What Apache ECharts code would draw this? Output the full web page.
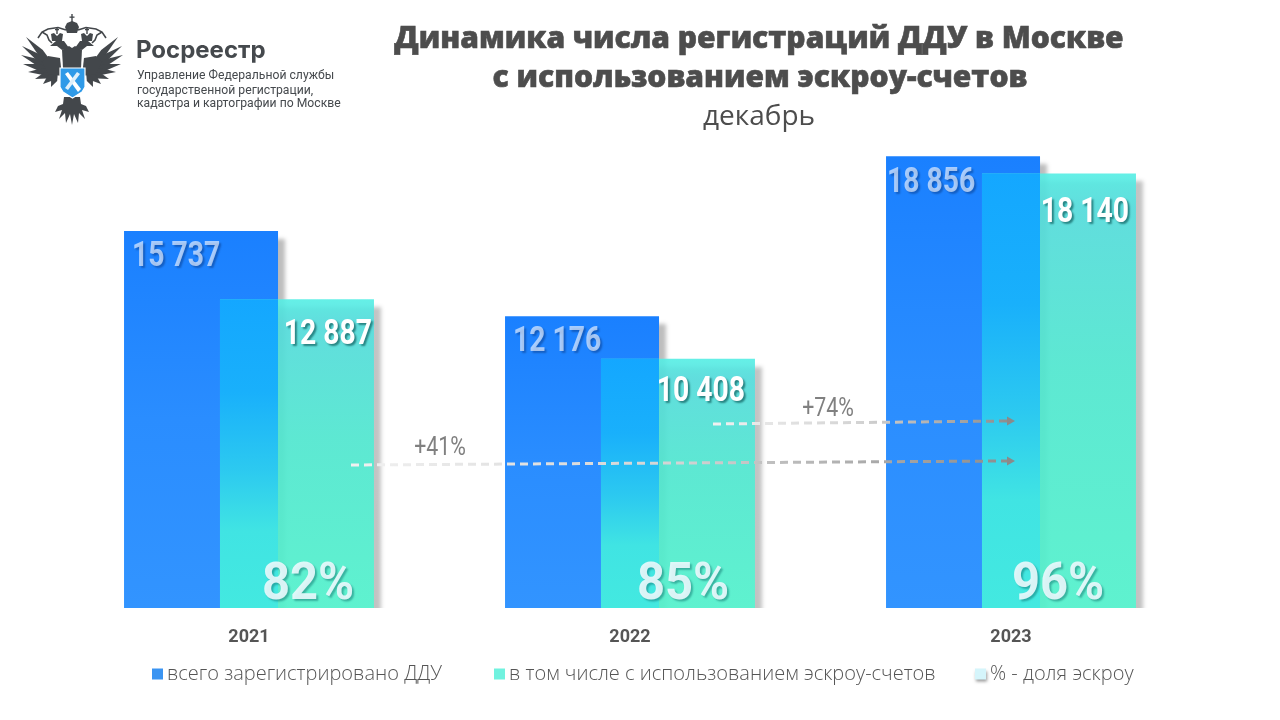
<!DOCTYPE html>
<html>
<head>
    <title>Динамика числа регистраций ДДУ в Москве</title>
    <meta charset="utf-8">
    <script src="https://cdn.jsdelivr.net/npm/echarts@6/dist/echarts.min.js"></script>
    <style>
        html, body { margin: 0; padding: 0; background: #fff; }
    </style>
</head>
<body>
<div id="main" style="width: 1280px; height: 720px;"></div>
<script>
    var years = ['2021', '2022', '2023'];
    var totalDdu = [15737, 12176, 18856];
    var escrowDdu = [12887, 10408, 18140];
    var escrowShare = [82, 85, 96];
    var legendNames = ['всего зарегистрировано ДДУ', 'в том числе с использованием эскроу-счетов', '% - доля эскроу'];

    // small per-year label nudges, px
    var totalLabelLeft = [-117, -117, -124];
    var totalLabelTop = [26, 26, 27];
    var escrowLabelRight = [123, 115, 118];
    var escrowLabelTop = [36, 34, 40];
    var shareLabelShift = [59, 53, 47];

    var INK = '#4d4d4d';
    var NUM_FONT = 'Roboto, sans-serif';
    var grad = echarts.graphic.LinearGradient;

    function spaced(v) {
        return String(v).replace(/\B(?=(\d{3})+$)/g, ' ');
    }

    // ---- logo, left half is drawn once and mirrored
    function eagleHalf() {
        var dark = '#43474b';
        var parts = [];
        var tips = [[-46, 37], [-50, 46], [-51, 55], [-49, 64], [-44, 72], [-37, 79], [-29, 84], [-21, 87]];
        tips.forEach(function (t) {
            var rx = -14, ry = 71;
            var mx = rx + (t[0] - rx) * 0.55, my = ry + (t[1] - ry) * 0.55;
            var dx = t[0] - rx, dy = t[1] - ry, len = Math.sqrt(dx * dx + dy * dy);
            var nx = -dy / len * 3.3, ny = dx / len * 3.3;
            parts.push({
                type: 'polygon',
                shape: { points: [[rx, ry], [mx + nx, my + ny], t, [mx - nx, my - ny]] },
                style: { fill: dark }
            });
        });
        var shapes = [
            // shoulder
            [[-12, 58], [-24, 56], [-30, 62], [-24, 74], [-10, 76]],
            // neck and body
            [[0, 48], [-3, 46], [-10, 50], [-9, 68], [0, 70]],
            // head, beak
            [[-3, 48], [-8, 41], [-16, 41], [-22, 46], [-15, 46], [-10, 50]],
            // small crown
            [[-10, 41], [-9, 34], [-12, 33], [-15, 36], [-18, 33], [-21, 34], [-20, 41]],
            // big crown half
            [[0, 33], [-5, 33], [-7, 27], [-5, 23], [0, 21]],
            // leg and tail
            [[0, 97], [-8, 97], [-9, 104], [-14, 106], [-17, 112], [-10, 110], [-13, 119], [-7, 113], [-6, 123], [-2, 114], [0, 125]]
        ];
        shapes.forEach(function (pts) {
            parts.push({ type: 'polygon', shape: { points: pts }, style: { fill: dark } });
        });
        // small crown cross
        parts.push({ type: 'rect', shape: { x: -15.7, y: 27, width: 1.4, height: 7 }, style: { fill: dark } });
        parts.push({ type: 'rect', shape: { x: -17, y: 29, width: 4, height: 1.3 }, style: { fill: dark } });
        // ribbon from crown to wing
        parts.push({
            type: 'polyline',
            shape: { points: [[-6, 30], [-14, 27.5], [-24, 29], [-30, 32], [-34, 38]] },
            style: { fill: 'none', stroke: dark, lineWidth: 1.6 }
        });
        parts.push({
            type: 'polyline',
            shape: { points: [[-30, 32], [-25, 35], [-23, 40], [-20, 43]] },
            style: { fill: 'none', stroke: dark, lineWidth: 1.6 }
        });
        return parts;
    }

    var logo = [
        { type: 'group', x: 72, y: 0, z: 1, children: eagleHalf() },
        { type: 'group', x: 72, y: 0, scaleX: -1, z: 1, children: eagleHalf() },
        { type: 'rect', z: 2, shape: { x: 71.3, y: 14, width: 1.4, height: 8 }, style: { fill: '#43474b' } },
        { type: 'rect', z: 2, shape: { x: 69.5, y: 16.5, width: 5, height: 1.3 }, style: { fill: '#43474b' } },
        {
            type: 'polygon', z: 3,
            shape: { points: [[60, 68], [85, 68], [85, 87], [82, 92], [72.5, 98], [63, 92], [60, 87]] },
            style: { fill: '#2f9ae8', stroke: '#fff', lineWidth: 1.2 }
        },
        { type: 'polygon', z: 4, shape: { points: [[65, 74], [68, 72], [81, 89], [78, 92]] }, style: { fill: '#fff' } },
        { type: 'polygon', z: 4, shape: { points: [[77, 72], [80, 74], [68, 90], [65, 88]] }, style: { fill: '#dff0fb' } }
    ];

    // ---- growth arrows over the bars
    function arrow(x1, y1, x2, y2) {
        return [
            {
                type: 'line', z: 20, silent: true,
                shape: { x1: x1, y1: y1, x2: x2 - 8, y2: y2 },
                style: {
                    lineWidth: 3,
                    lineDash: [8, 5],
                    stroke: new grad(0, 0, 1, 0, [
                        { offset: 0, color: '#f1f1f1' },
                        { offset: 0.5, color: '#d3d3d3' },
                        { offset: 1, color: '#8d8d8d' }
                    ])
                }
            },
            {
                type: 'polygon', z: 20, silent: true,
                shape: { points: [[x2 - 8, y2 - 4.5], [x2, y2], [x2 - 8, y2 + 4.5]] },
                style: { fill: '#8a8a8a' }
            }
        ];
    }

    function growthText(text, x, y) {
        return {
            type: 'text', z: 20, x: x, y: y, scaleX: 0.82,
            style: { text: text, font: '26px ' + NUM_FONT, fill: '#808080', textAlign: 'center', textVerticalAlign: 'middle' }
        };
    }

    function logoTitle(text, top, size, weight, family, left) {
        return {
            text: text, left: left, top: top, padding: 0,
            textStyle: { fontFamily: family, fontWeight: weight, fontSize: size, color: '#45494d' }
        };
    }

    function headTitle(text, left, top, size, weight, heavy) {
        return {
            text: text, left: left, top: top, padding: 0, textAlign: 'center',
            textStyle: {
                fontFamily: '"Open Sans"', fontWeight: weight, fontSize: size, color: INK,
                textBorderColor: heavy ? INK : 'transparent', textBorderWidth: heavy ? 0.6 : 0
            }
        };
    }

    // a series of text marks placed through the axes
    function textSeries(name, values, place, look) {
        return {
            name: name,
            type: 'custom',
            silent: true,
            z: 4,
            itemStyle: { color: '#d5f5fb' },
            data: years.map(function (y, i) { return [i, values[i]]; }),
            encode: { x: 0, y: 1 },
            renderItem: function (params, api) {
                var pos = place(api.coord([api.value(0), api.value(1)]), api.coord([api.value(0), 0]), params.dataIndex);
                return {
                    type: 'text',
                    x: pos[0],
                    y: pos[1],
                    scaleX: look.scaleX,
                    style: {
                        text: look.format(api.value(1)),
                        font: look.font,
                        fill: look.fill,
                        textAlign: look.align,
                        textVerticalAlign: 'middle',
                        textShadowColor: look.shadow,
                        textShadowBlur: 2,
                        textShadowOffsetX: 2,
                        textShadowOffsetY: 2
                    }
                };
            }
        };
    }

    var myChart = echarts.init(document.getElementById('main'), null, { renderer: 'canvas' });

    var option = {
        animation: false,
        backgroundColor: '#fff',
        title: [
            headTitle('Динамика числа регистраций ДДУ в Москве', 759, 24, 30, 800, true),
            headTitle('с использованием эскроу-счетов', 760, 63, 30, 800, true),
            headTitle('декабрь', 759, 103, 28, 400, false),
            logoTitle('Росреестр', 39, 24, 700, 'Inter, Roboto', 136),
            logoTitle('Управление Федеральной службы', 70, 12.2, 400, 'Roboto', 137),
            logoTitle('государственной регистрации,', 85, 12.2, 400, 'Roboto', 137),
            logoTitle('кадастра и картографии по Москве', 98, 12.2, 400, 'Roboto', 137)
        ],
        legend: [
            { left: 152, top: 664, data: [legendNames[0]] },
            { left: 494, top: 664, data: [legendNames[1]] },
            { left: 975, top: 664, data: [legendNames[2]] }
        ].map(function (l, i) {
            l.icon = 'rect';
            l.itemWidth = 11;
            l.itemHeight = 11;
            l.itemGap = 0;
            l.selectedMode = false;
            l.padding = 0;
            l.textStyle = { fontFamily: '"Open Sans"', fontWeight: 300, fontSize: 20, color: '#555', padding: [0, 0, 0, -1] };
            l.itemStyle = i === 0 ? { color: '#3a94f2' } : i === 1 ? { color: '#70f2df' }
                : { color: '#d5f5fb', shadowColor: 'rgba(0,0,0,0.4)', shadowBlur: 3, shadowOffsetX: 1, shadowOffsetY: 2 };
            return l;
        }),
        grid: { left: 58.5, right: 78.5, top: 148, bottom: 112 },
        xAxis: {
            type: 'category',
            data: years,
            axisLine: { show: false },
            axisTick: { show: false },
            axisLabel: { margin: 20, fontFamily: 'Roboto', fontWeight: 700, fontSize: 18, color: '#555' }
        },
        yAxis: { type: 'value', min: 0, max: 19200, show: false },
        graphic: logo
            .concat(arrow(351, 465, 1015, 461))
            .concat(arrow(713, 424, 1015, 421))
            .concat([
                growthText('+41%', 440, 448),
                growthText('+74%', 828, 409),
                // bars stand on a clean edge, their shadows stop at the baseline
                { type: 'rect', z: 3, silent: true, shape: { x: 100, y: 608, width: 1080, height: 16 }, style: { fill: '#fff' } }
            ]),
        series: [
            {
                name: legendNames[0],
                type: 'bar',
                barWidth: 154,
                barGap: '-37.7%',
                z: 2,
                data: totalDdu,
                itemStyle: {
                    color: new grad(0, 0, 0, 1, [
                        { offset: 0, color: '#1a80ff' },
                        { offset: 0.5, color: '#2a8dff' },
                        { offset: 1, color: '#3294ff' }
                    ]),
                    shadowColor: 'rgba(0,0,0,0.26)', shadowBlur: 4, shadowOffsetX: 7, shadowOffsetY: 8
                }
            },
            {
                name: legendNames[1],
                type: 'bar',
                barWidth: 154,
                z: 2,
                data: escrowDdu,
                itemStyle: {
                    color: new grad(0, 0, 0, 1, [
                        { offset: 0, color: 'rgba(84,238,228,0.9)' },
                        { offset: 0.08, color: 'rgba(86,224,224,0.9)' },
                        { offset: 0.45, color: 'rgba(82,236,212,0.9)' },
                        { offset: 1, color: 'rgba(86,246,208,0.92)' }
                    ]),
                    shadowColor: 'rgba(0,0,0,0.26)', shadowBlur: 4, shadowOffsetX: 7, shadowOffsetY: 8
                }
            },
            {
                // the strip where the escrow bar overlaps the total bar
                type: 'custom',
                silent: true,
                z: 3,
                data: years.map(function (y, i) { return [i, escrowDdu[i]]; }),
                encode: { x: 0, y: 1 },
                renderItem: function (params, api) {
                    var top = api.coord([api.value(0), api.value(1)]);
                    var bottom = api.coord([api.value(0), 0]);
                    return {
                        type: 'rect',
                        shape: { x: top[0] - 29, y: top[1], width: 58, height: bottom[1] - top[1] },
                        style: {
                            fill: new grad(0, 0, 0, 1, [
                                { offset: 0, color: '#14a7ff' },
                                { offset: 0.3, color: '#19b0fb' },
                                { offset: 0.55, color: '#2cc9f0' },
                                { offset: 0.75, color: '#40e4e3' },
                                { offset: 1, color: '#43e9e0' }
                            ])
                        }
                    };
                }
            },
            textSeries('totalLabels', totalDdu, function (top, base, i) {
                return [top[0] + totalLabelLeft[i], top[1] + totalLabelTop[i]];
            }, {
                scaleX: 0.81, font: 'bold 35px ' + NUM_FONT, fill: 'rgba(235,242,255,0.68)',
                align: 'left', shadow: 'rgba(0,30,90,0.55)', format: spaced
            }),
            textSeries('escrowLabels', escrowDdu, function (top, base, i) {
                return [top[0] + escrowLabelRight[i], top[1] + escrowLabelTop[i]];
            }, {
                scaleX: 0.81, font: 'bold 35px ' + NUM_FONT, fill: '#fff',
                align: 'right', shadow: 'rgba(0,70,70,0.6)', format: spaced
            }),
            textSeries(legendNames[2], escrowShare, function (top, base, i) {
                return [base[0] + shareLabelShift[i], base[1] - 22];
            }, {
                scaleX: 0.94, font: 'bold 52px ' + NUM_FONT, fill: 'rgba(232,248,252,0.92)',
                align: 'center', shadow: 'rgba(0,90,90,0.45)',
                format: function (v) { return v + '%'; }
            })
        ]
    };

    myChart.setOption(option);
</script>
</body>
</html>
